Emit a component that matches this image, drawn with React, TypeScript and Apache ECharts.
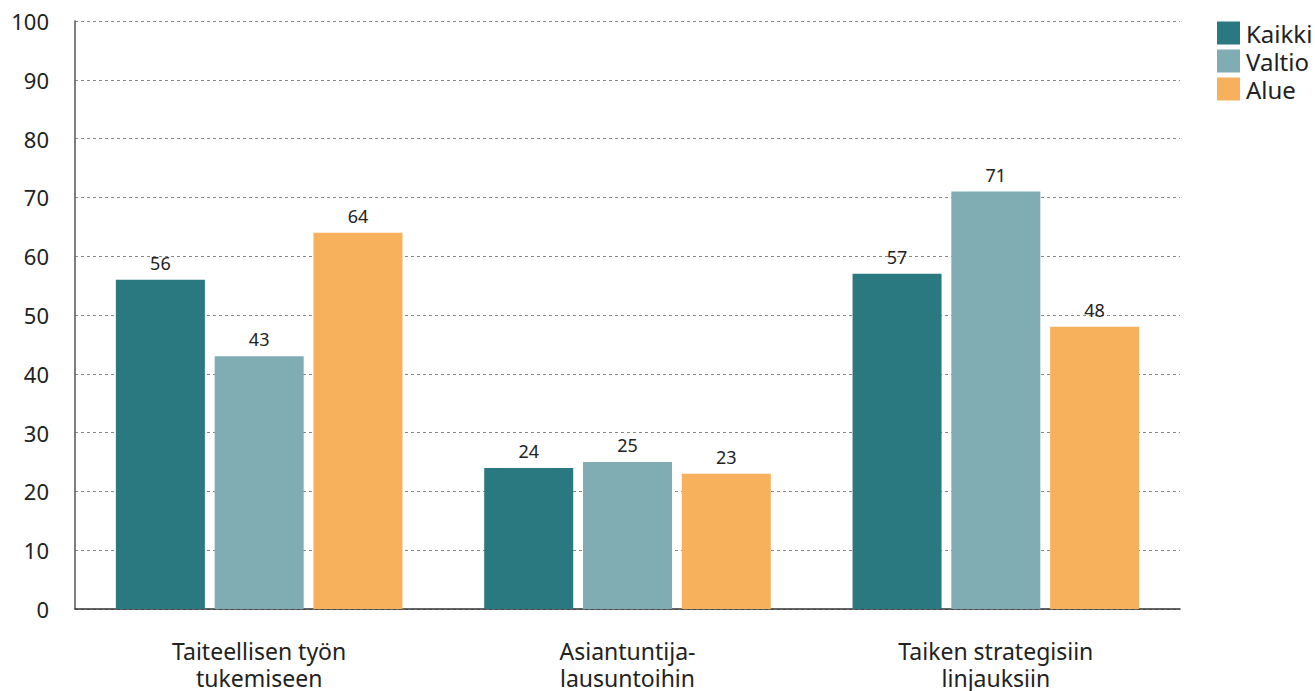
import React, { useEffect, useRef } from "react";
import * as echarts from "echarts";

const categories = ["Taiteellisen työn\ntukemiseen", "Asiantuntija-\nlausuntoihin", "Taiken strategisiin\nlinjauksiin"];
const seriesNames = ["Kaikki", "Valtio", "Alue"];
const kaikki = [56, 24, 57];
const valtio = [43, 25, 71];
const alue = [64, 23, 48];
const colors = ["#2a7880", "#7fadb3", "#f7b05b"];

export default function App() {
  const ref = useRef<HTMLDivElement>(null);
  useEffect(() => {
    const chart = echarts.init(ref.current!, null, { renderer: "svg" });
    const data = [kaikki, valtio, alue];
    chart.setOption({
      animation: false,
      textStyle: { fontFamily: "Noto Sans" },
      grid: { left: 75, right: 135, top: 21, bottom: 80, containLabel: false },
      legend: {
        orient: "vertical",
        left: 1212,
        top: 16,
        itemWidth: 23,
        itemHeight: 23,
        itemGap: 4,
        icon: "rect",
        textStyle: { fontSize: 24, color: "#222", lineHeight: 23, padding: [0, 0, 0, 1] },
        data: seriesNames,
      },
      xAxis: {
        type: "category",
        data: categories,
        axisLine: { lineStyle: { color: "#333", width: 1.5 } },
        axisTick: { show: false },
        axisLabel: { fontSize: 23, color: "#222", margin: 28, lineHeight: 27 },
      },
      yAxis: {
        type: "value",
        min: 0,
        max: 100,
        interval: 10,
        axisLine: { show: true, lineStyle: { color: "#555", width: 1.5 } },
        axisTick: { show: false },
        axisLabel: { fontSize: 22, color: "#222", margin: 26 },
        splitLine: { lineStyle: { type: [3, 3], color: "#888", width: 1 } },
      },
      series: seriesNames.map((name, i) => ({
        name,
        type: "bar",
        data: data[i],
        barWidth: 89,
        barGap: "11%",
        itemStyle: { color: colors[i] },
        label: { show: true, position: "top", fontSize: 18, color: "#222", distance: 8 },
      })),
    });
    return () => chart.dispose();
  }, []);
  return <div ref={ref} style={{ width: 1315, height: 691, position: "absolute", left: 0, top: 0 }} />;
}
